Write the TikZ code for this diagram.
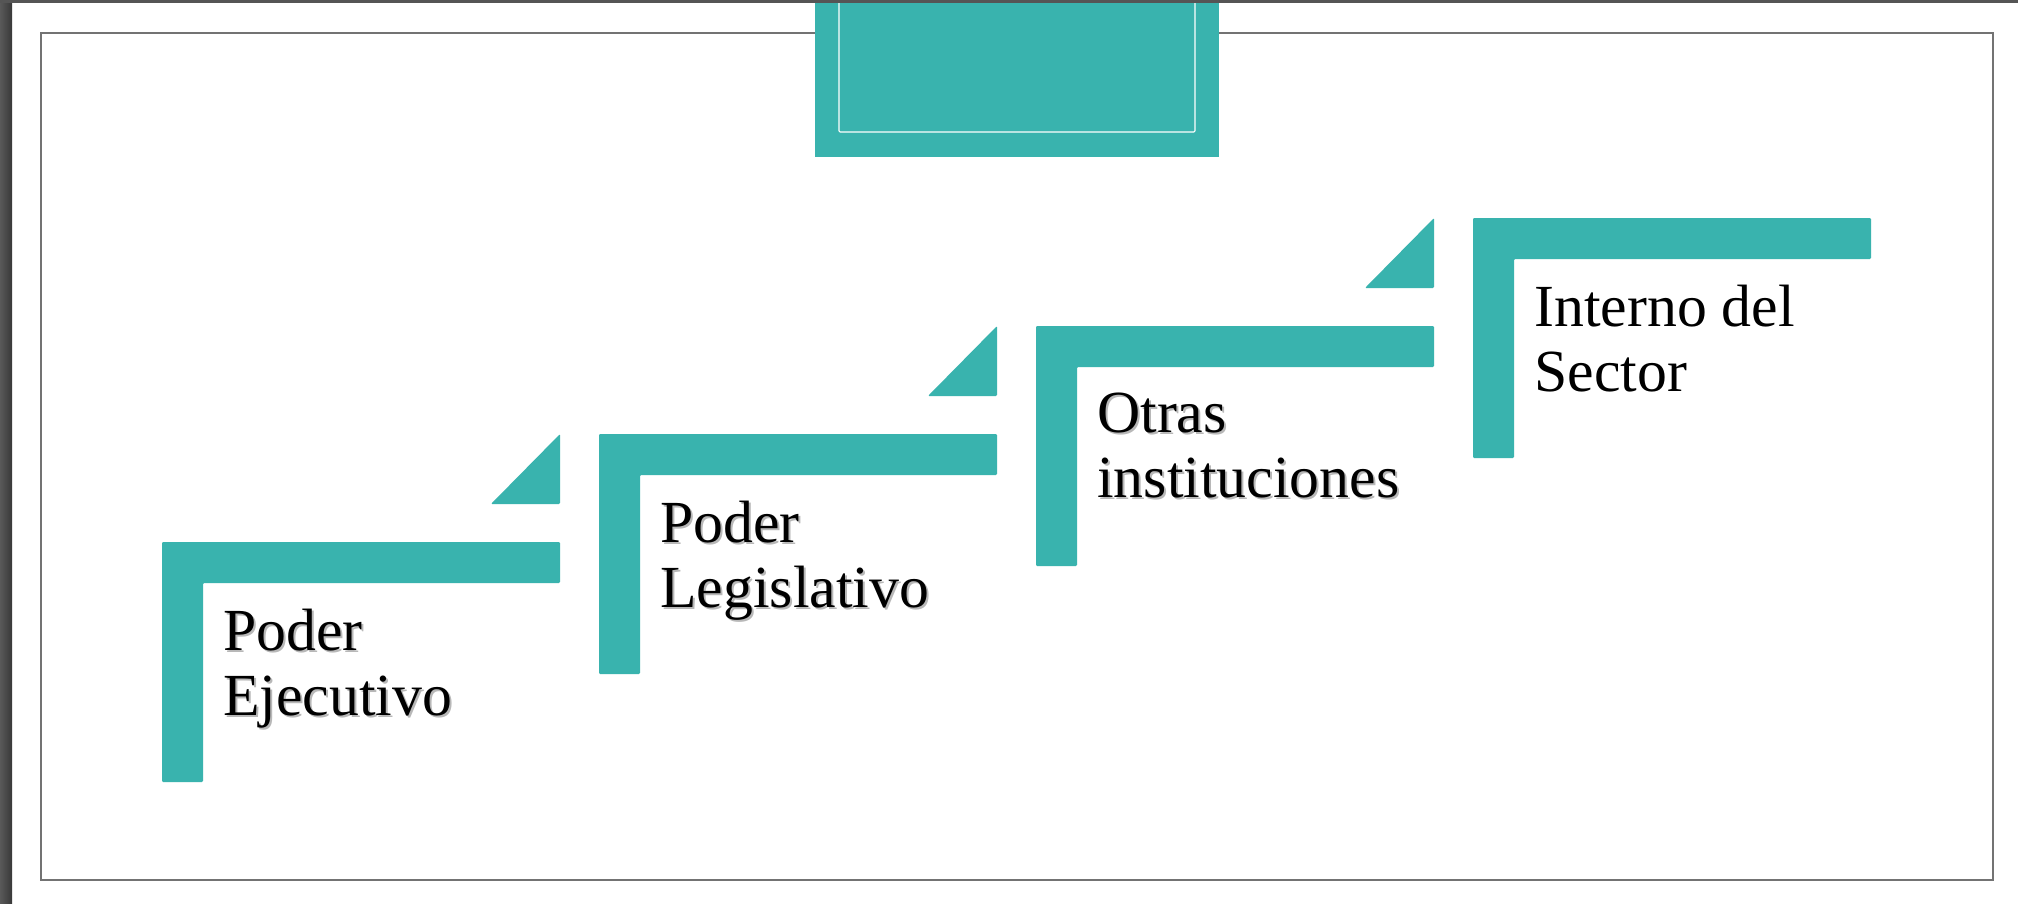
\documentclass[tikz,border=0pt]{standalone}
\usepackage{fontspec}
\setmainfont{Liberation Serif}
\usetikzlibrary{calc}
\definecolor{stairteal}{RGB}{57,179,174}
\definecolor{framegray}{RGB}{85,85,85}
\def\stair(#1,#2){\fill[stairfill] (#1,#2) -- ++(398,0) -- ++(0,41) -- ++(-357,0) -- ++(0,199) -- ++(-41,0) -- cycle;}
\def\notch(#1,#2){\fill[stairfill] ($(#1,#2)+(329,-38)$) -- ++(69,0) -- ++(0,-70) -- cycle;}

\begin{document}
\begin{tikzpicture}[x=0.02cm, y=-0.02cm,
	stairfill/.style={fill=stairteal, rounded corners=0.6pt},
	steptext/.style={anchor=north west, inner sep=0pt, align=left, font=\fontsize{34}{37}\selectfont},
	stepshadow/.style={steptext, text=black!28}]
			%%%%% START %%%%%
			\useasboundingbox (0,0) rectangle (2018,903);
			\fill[white] (0,0) rectangle (2018,903);
			
			\fill[left color=black!65, right color=black!78] (0,0) rectangle (12,903);
			\draw[line width=0.9pt, color=black!55] (41,33) rectangle (1993,880);
			
			\fill[stairteal] (815,-2) rectangle (1219,157);
			\draw[line width=0.6pt, white, rounded corners=0.6pt] (839,-2) -- (839,132) -- (1195,132) -- (1195,-2);
			\fill[framegray] (0,0) rectangle (2018,3);
			
			\stair(162,542);
			\notch(162,542);
			\stair(599,434);
			\notch(599,434);
			\stair(1036,326);
			\notch(1036,326);
			\stair(1473,218);
			
			\node[stepshadow] (ejecutivo-s) at (225,611) {Poder\\Ejecutivo};
			\node[steptext] (ejecutivo) at (223,609) {Poder\\Ejecutivo};
			
			\node[stepshadow] (legislativo-s) at (662,503) {Poder\\Legislativo};
			\node[steptext] (legislativo) at (660,501) {Poder\\Legislativo};
			
			\node[stepshadow] (otras-s) at (1099,395) {Otras\\instituciones};
			\node[steptext] (otras) at (1097,393) {Otras\\instituciones};
			
			\node[steptext] (interno) at (1534,285) {Interno del\\Sector};
			%%%%% END %%%%%
\end{tikzpicture}
\end{document}
